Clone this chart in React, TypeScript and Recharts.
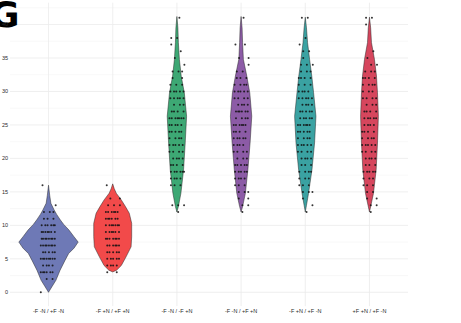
import React from 'react';
import { ComposedChart, Scatter, XAxis, YAxis, CartesianGrid } from 'recharts';

// Group labels along the x axis
const categories = [
  '-F -N / +F -N',
  '-F +N / +F +N',
  '-F -N / -F +N',
  '-F -N / +F +N',
  '-F +N / +F -N',
  '+F +N / +F -N',
];

const fillColors = ['#6e79b6', '#f24a4a', '#3da874', '#8c5ba6', '#3aa2a2', '#d6465d'];

// Violin outlines: [value, relative density]
const densityA: [number, number][] = [
  [0, 0], [0.8, 0.11], [1.8, 0.25], [3.3, 0.39], [4.8, 0.56], [5.8, 0.68], [6.6, 0.86], [7.5, 1.0],
  [8.3, 0.86], [9.3, 0.69], [10.1, 0.52], [10.8, 0.4], [11.6, 0.28], [12.3, 0.19], [13.3, 0.08],
  [14.5, 0.04], [16, 0],
];
const densityB: [number, number][] = [
  [3.05, 0], [3.3, 0.13], [4.0, 0.29], [5.3, 0.45], [6.8, 0.62], [8.3, 0.64], [10.3, 0.64],
  [11.8, 0.56], [12.8, 0.43], [13.8, 0.29], [14.8, 0.12], [15.5, 0.05], [16.2, 0],
];
const densityC: [number, number][] = [
  [12, 0], [12.8, 0.05], [14.8, 0.135], [18.3, 0.225], [22.3, 0.28], [26.3, 0.327],
  [29.8, 0.25], [32.3, 0.145], [34.8, 0.084], [37.3, 0.05], [39.5, 0.034], [41.2, 0],
];
const densityD: [number, number][] = [
  [12, 0], [12.8, 0.05], [14.8, 0.145], [18.3, 0.229], [22.3, 0.303], [26.3, 0.36],
  [29.8, 0.293], [32.3, 0.192], [34.8, 0.077], [37.3, 0.05], [39.5, 0.034], [41.2, 0],
];
const densityE: [number, number][] = [
  [12, 0], [13, 0.04], [14.8, 0.11], [18.3, 0.225], [22.3, 0.313], [26.3, 0.36],
  [29.8, 0.28], [32.3, 0.219], [34.8, 0.145], [37.3, 0.077], [39.5, 0.04], [41.1, 0],
];
const densityF: [number, number][] = [
  [12, 0], [13, 0.05], [14.8, 0.135], [18.3, 0.225], [22.3, 0.27], [26.3, 0.3],
  [29.8, 0.27], [32.3, 0.236], [34.8, 0.168], [37.3, 0.067], [39.5, 0.04], [41.1, 0],
];

// Observations: [value, number of observations at that value]
const countsA: [number, number][] = [
  [0, 1], [2, 2], [3, 6], [4, 4], [5, 8], [6, 5], [7, 8], [8, 8], [9, 7], [10, 6], [11, 3],
  [12, 3], [13, 1], [16, 1],
];
const countsB: [number, number][] = [
  [3, 2], [4, 4], [5, 5], [6, 5], [7, 6], [8, 7], [9, 6], [10, 7], [11, 6], [12, 6], [13, 3],
  [14, 2], [16, 1],
];
const countsC: [number, number][] = [
  [12, 1], [13, 3], [16, 3], [17, 4], [18, 6], [19, 4], [20, 4], [21, 4], [22, 5], [23, 4],
  [24, 5], [25, 5], [26, 7], [27, 4], [28, 3], [29, 5], [30, 5], [31, 3], [32, 2], [33, 3],
  [34, 1], [35, 1], [36, 1], [37, 1], [38, 2], [41, 1],
];
const countsD: [number, number][] = [
  [12, 1], [13, 2], [14, 2], [15, 3], [16, 3], [17, 4], [18, 5], [19, 5], [20, 3], [21, 4],
  [22, 4], [23, 5], [24, 4], [25, 6], [26, 4], [27, 6], [28, 4], [29, 4], [30, 5], [31, 4],
  [32, 3], [33, 2], [34, 1], [35, 2], [37, 2], [41, 1],
];
const countsE: [number, number][] = [
  [12, 1], [13, 1], [14, 1], [15, 3], [16, 3], [17, 3], [18, 4], [19, 3], [20, 4], [21, 4],
  [22, 5], [23, 4], [24, 5], [25, 6], [26, 5], [27, 5], [28, 4], [29, 5], [30, 4], [31, 3],
  [32, 4], [33, 3], [34, 3], [35, 1], [36, 2], [37, 1], [38, 1], [41, 2],
];
const countsF: [number, number][] = [
  [12, 1], [13, 2], [14, 2], [15, 2], [16, 3], [17, 3], [18, 5], [19, 3], [20, 4], [21, 4],
  [22, 5], [23, 4], [24, 4], [25, 4], [26, 5], [27, 4], [28, 3], [29, 4], [30, 3], [31, 4],
  [32, 4], [33, 3], [34, 2], [35, 1], [36, 1], [40, 1], [41, 2],
];

const yTicks = [0, 5, 10, 15, 20, 25, 30, 35, 40];
const yMinor = [2.5, 7.5, 12.5, 17.5, 22.5, 27.5, 32.5, 37.5, 42.5];

const densities = [densityA, densityB, densityC, densityD, densityE, densityF];
const counts = [countsA, countsB, countsC, countsD, countsE, countsF];

const VIOLIN_HALF_WIDTH = 0.462; // x-units for density 1.0
const JITTER = 0.12;

// Closed outline: up the right side, back down the left side
function outline(dens: [number, number][], center: number) {
  const right = dens.map(([v, d]) => ({ x: center + d * VIOLIN_HALF_WIDTH, y: v }));
  const left = [...dens].reverse().map(([v, d]) => ({ x: center - d * VIOLIN_HALF_WIDTH, y: v }));
  return [...right, ...left];
}

// Spread the observations of each value horizontally around the group centre
function jittered(rows: [number, number][], center: number) {
  const pts: { x: number; y: number }[] = [];
  rows.forEach(([v, n]) => {
    for (let k = 0; k < n; k++) {
      const t = (k * 0.618034 + v * 0.381966) % 1;
      pts.push({ x: center + (t - 0.5) * 2 * JITTER, y: v });
    }
  });
  return pts;
}

const hidden = () => <g />;
const dot = (p: any) => <circle cx={p.cx} cy={p.cy} r={1} fill="#111" fillOpacity={0.85} />;

export default function App() {
  return (
    <div style={{ position: 'absolute', left: 0, top: 0, background: '#fff' }}>
      <ComposedChart
        width={461}
        height={323}
        margin={{ top: 2.7, right: 53, bottom: 0, left: 0 }}
      >
        <CartesianGrid
          horizontal
          vertical={false}
          horizontalValues={yMinor}
          stroke="#f3f3f3"
          strokeWidth={0.6}
        />
        <CartesianGrid
          horizontal
          vertical
          horizontalValues={yTicks}
          verticalValues={[1, 2, 3, 4, 5, 6]}
          stroke="#ebebeb"
          strokeWidth={0.8}
        />
        <XAxis
          type="number"
          dataKey="x"
          domain={[0.4, 6.6]}
          ticks={[1, 2, 3, 4, 5, 6]}
          tickFormatter={(v: number) => categories[Math.round(v) - 1] ?? ''}
          height={16.9}
          axisLine={false}
          tickLine={false}
          tickSize={0}
          tickMargin={3}
          interval={0}
          tick={{ fontSize: 5.5, fill: '#2a2a2a', fontFamily: 'Liberation Sans, Arial, sans-serif' }}
        />
        <YAxis
          type="number"
          dataKey="y"
          domain={[-2.06, 43.26]}
          ticks={yTicks}
          width={10}
          axisLine={false}
          tickLine={false}
          tickSize={0}
          tickMargin={2}
          interval={0}
          tick={{ fontSize: 5.5, fill: '#2a2a2a', fontFamily: 'Liberation Sans, Arial, sans-serif' }}
        />
        {densities.map((d, i) => (
          <Scatter
            key={`violin-${i}`}
            data={outline(d, i + 1)}
            shape={hidden}
            line={{ fill: fillColors[i], stroke: '#2b2b2b', strokeWidth: 0.5 }}
            lineType="joint"
            lineJointType="linear"
            isAnimationActive={false}
          />
        ))}
        {counts.map((c, i) => (
          <Scatter
            key={`points-${i}`}
            data={jittered(c, i + 1)}
            shape={dot}
            isAnimationActive={false}
          />
        ))}
        <text
          x={-10}
          y={27}
          fontSize={36}
          fontWeight="bold"
          fontFamily="DejaVu Sans, sans-serif"
          fill="#000"
        >
          G
        </text>
      </ComposedChart>
    </div>
  );
}
